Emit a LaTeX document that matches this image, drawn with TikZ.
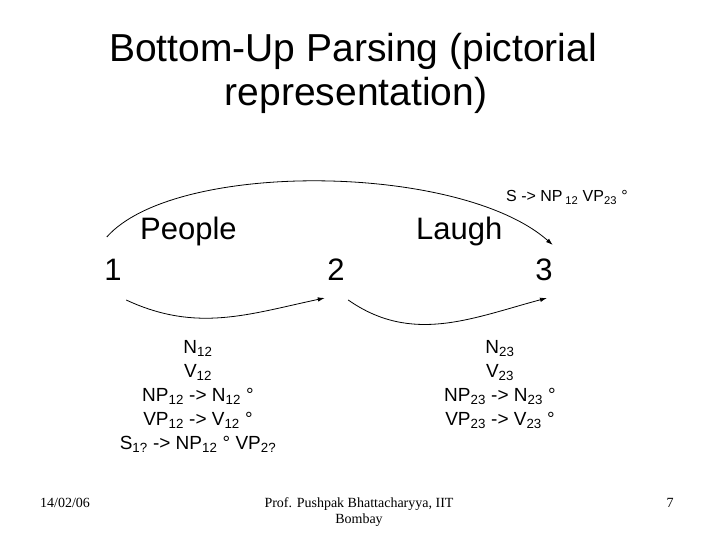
\documentclass[tikz,border=0pt]{standalone}
\usepackage{fontspec}
\setmainfont{Liberation Sans}
\newfontfamily\footfont{Liberation Serif}
\usetikzlibrary{arrows.meta}

\begin{document}
\begin{tikzpicture}[x=1pt,y=1pt]
        \tikzset{title/.style = {inner sep=0pt, anchor=base, font=\fontsize{39}{47}\selectfont}}
        \tikzset{word/.style = {inner sep=0pt, font=\fontsize{31}{37}\selectfont}}
        \tikzset{rules/.style = {inner sep=0pt, anchor=base, align=center, font=\fontsize{19}{24}\selectfont}}
        \tikzset{foot/.style = {inner sep=0pt, font=\footfont\fontsize{14}{16}\selectfont}}
        \tikzset{edge/.style = {->, > = {Latex[length=7pt, width=4.5pt]}, line width=0.8pt}}

        \useasboundingbox (0,0) rectangle (720,-540);

        \node[title] (t1) at (353,-62) {Bottom-Up Parsing (pictorial};
        \node[title] (t2) at (356,-106) {representation)};

        \node[word, anchor=base west] (w1) at (140,-240) {People};
        \node[word, anchor=base west] (w2) at (416,-240) {Laugh};
        \node[word, anchor=base] (n1) at (113,-280) {1};
        \node[word, anchor=base] (n2) at (336,-280) {2};
        \node[word, anchor=base] (n3) at (544,-280) {3};

        \node[inner sep=0pt, anchor=base west, font=\fontsize{16}{19}\selectfont] (r13) at (506,-202)
            {S -> NP\,\textsubscript{12} VP\textsubscript{23} °};

        % base of a multi-line node is its last line
        \node[rules] (c12) at (198,-449) {N\textsubscript{12}\\V\textsubscript{12}\\
            NP\textsubscript{12} -> N\textsubscript{12} °\\VP\textsubscript{12} -> V\textsubscript{12} °\\
            S\textsubscript{1?} -> NP\textsubscript{12} ° VP\textsubscript{2?}};
        \node[rules] (c23) at (500,-425) {N\textsubscript{23}\\V\textsubscript{23}\\
            NP\textsubscript{23} -> N\textsubscript{23} °\\VP\textsubscript{23} -> V\textsubscript{23} °};

        \draw[edge] ([shift={(2.6,43)}]n1.base west) .. controls (175,-160) and (460,-163) .. ([shift={(0,35)}]n3.base east);

        \draw[edge] ([shift={(4.4,-20)}]n1.base east) to[out=-25,in=192] ([shift={(-2.4,-18)}]n2.base west);
        \draw[edge] ([shift={(3.4,-20)}]n2.base east) to[out=-35,in=195] ([shift={(3,-18)}]n3.base);

        \node[foot, anchor=base west] (f1) at (40,-507) {14/02/06};
        \node[foot, anchor=base, align=center] (f2) at (359,-523) {Prof. Pushpak Bhattacharyya, IIT\\Bombay};
        \node[foot, anchor=base] (f3) at (670,-507) {7};
    \end{tikzpicture}
\end{document}
